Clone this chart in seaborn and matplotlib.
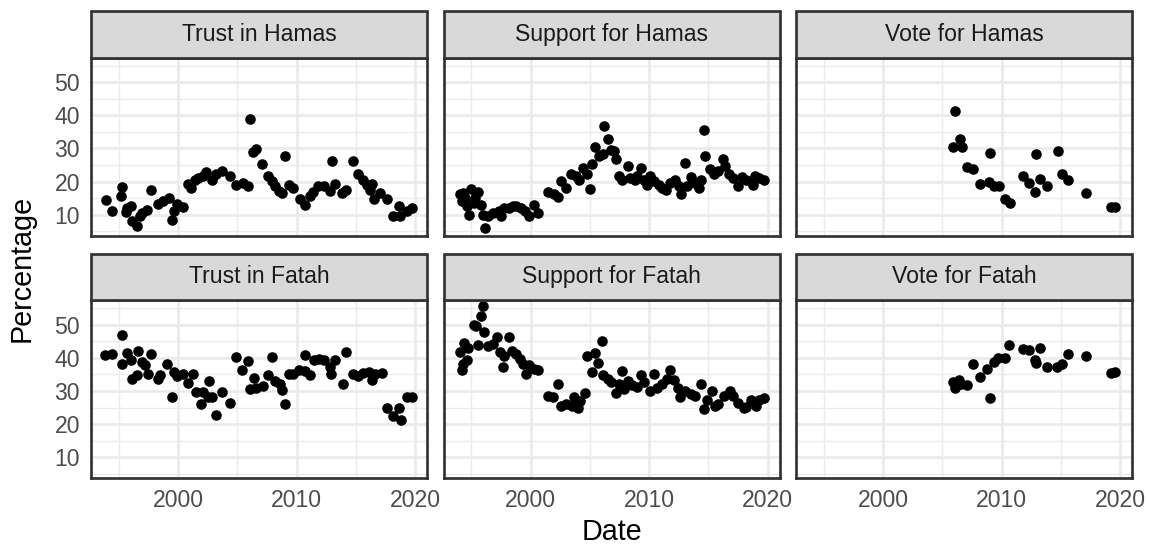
import pandas as pd
import matplotlib.pyplot as plt
import seaborn as sns
from matplotlib.patches import Rectangle
from matplotlib.ticker import MultipleLocator

# -------------------------------------------------------
# Data
# -------------------------------------------------------
panels = ["Trust in Hamas", "Support for Hamas", "Vote for Hamas",
          "Trust in Fatah", "Support for Fatah", "Vote for Fatah"]

trust_hamas_date = [1993.9, 1994.4, 1995.3, 1995.2, 1995.7, 1996.0, 1995.6, 1996.1, 1996.5, 1996.8,
                    1997.0, 1997.4, 1997.7, 1998.3, 1998.7, 1999.2, 1999.5, 1999.7, 1999.9, 2000.4,
                    2000.8, 2001.1, 2001.4, 2001.7, 2002.1, 2002.4, 2002.9, 2003.2, 2003.7, 2004.4,
                    2004.9, 2005.5, 2005.9, 2006.1, 2006.3, 2006.6, 2007.1, 2007.6, 2007.9, 2008.2,
                    2008.5, 2008.8, 2009.0, 2009.4, 2009.7, 2010.3, 2010.7, 2011.1, 2011.4, 2011.8,
                    2012.3, 2012.8, 2013.0, 2013.2, 2013.8, 2014.2, 2014.8, 2015.2, 2015.6, 2015.9,
                    2016.2, 2016.4, 2016.5, 2017.0, 2017.6, 2018.1, 2018.6, 2018.7, 2019.3, 2019.7]
trust_hamas_pct = [14.4, 11.0, 18.4, 15.6, 12.0, 12.7, 10.7, 8.0, 6.7, 9.5,
                   10.5, 11.5, 17.6, 13.3, 14.0, 15.0, 8.5, 11.0, 13.3, 12.2,
                   19.4, 18.1, 20.6, 21.1, 21.6, 22.9, 20.6, 22.2, 23.2, 21.8,
                   19.1, 19.6, 18.6, 38.9, 28.9, 29.7, 25.2, 21.8, 20.1, 18.6,
                   17.3, 16.4, 27.7, 19.1, 18.1, 14.8, 13.0, 15.6, 16.8, 18.8,
                   18.6, 17.1, 26.2, 19.4, 16.4, 17.4, 26.2, 22.2, 20.5, 19.1,
                   17.6, 19.4, 14.6, 16.6, 14.8, 9.7, 12.7, 9.5, 11.0, 12.0]

support_hamas_date = [1994.05, 1994.2, 1994.3, 1994.5, 1994.6, 1994.8, 1995.0, 1995.2, 1995.3, 1995.6,
                      1995.8, 1996.0, 1996.2, 1996.4, 1996.8, 1997.3, 1997.5, 1997.8, 1998.2, 1998.5,
                      1998.8, 1999.2, 1999.5, 1999.9, 2000.3, 2000.6, 2001.5, 2002.0, 2002.3, 2002.6,
                      2003.0, 2003.4, 2003.8, 2004.1, 2004.4, 2004.8, 2005.0, 2005.2, 2005.4, 2005.8,
                      2006.1, 2006.2, 2006.5, 2006.8, 2007.0, 2007.2, 2007.5, 2007.7, 2008.2, 2008.4,
                      2008.8, 2009.0, 2009.3, 2009.6, 2009.8, 2010.1, 2010.4, 2010.8, 2011.1, 2011.4,
                      2011.8, 2012.2, 2012.5, 2012.7, 2013.0, 2013.2, 2013.5, 2013.9, 2014.2, 2014.4,
                      2014.6, 2014.7, 2015.1, 2015.5, 2015.8, 2016.2, 2016.4, 2016.7, 2017.1, 2017.5,
                      2017.8, 2018.2, 2018.6, 2018.8, 2018.9, 2019.3, 2019.7]
support_hamas_pct = [16.1, 14.1, 16.6, 15.1, 12.5, 10.0, 17.8, 13.5, 15.1, 16.8,
                     13.0, 10.0, 6.0, 9.5, 10.5, 11.0, 9.5, 12.0, 12.0, 12.5,
                     12.5, 12.0, 11.0, 9.5, 13.0, 10.5, 16.8, 16.1, 15.4, 20.1,
                     18.1, 22.4, 21.6, 20.6, 24.2, 22.2, 17.8, 25.2, 30.3, 27.7,
                     28.2, 36.8, 32.8, 29.6, 29.3, 26.7, 21.8, 20.6, 24.7, 21.1,
                     20.6, 21.6, 24.2, 20.4, 19.1, 21.6, 20.1, 19.1, 18.1, 17.6,
                     19.6, 20.6, 18.6, 16.1, 25.7, 18.6, 21.4, 19.6, 18.1, 20.6,
                     35.6, 27.7, 23.9, 22.4, 23.2, 26.7, 24.7, 22.4, 21.1, 18.6,
                     21.4, 20.6, 20.1, 19.1, 21.6, 21.1, 20.4]

vote_hamas_date = [2006.08, 2005.9, 2006.5, 2006.7, 2007.1, 2007.6, 2008.2, 2008.9, 2009.0, 2009.4,
                   2009.8, 2010.3, 2010.7, 2011.8, 2012.3, 2012.8, 2012.9, 2013.2, 2013.8, 2014.8,
                   2015.1, 2015.6, 2017.1, 2019.2, 2019.6]
vote_hamas_pct = [41.4, 30.3, 33.0, 30.6, 24.5, 23.9, 19.4, 19.8, 28.7, 18.8,
                  18.8, 14.6, 13.5, 21.8, 19.6, 16.8, 28.2, 20.8, 18.8, 29.2,
                  22.2, 20.5, 16.6, 12.3, 12.3]

trust_fatah_date = [1993.8, 1994.4, 1995.3, 1995.7, 1995.3, 1996.0, 1996.1, 1996.6, 1996.5, 1997.0,
                    1997.2, 1997.5, 1997.7, 1998.3, 1998.5, 1999.1, 1999.5, 1999.7, 1999.9, 2000.4,
                    2000.8, 2001.3, 2001.5, 2002.1, 2001.9, 2002.5, 2002.6, 2002.9, 2003.2, 2003.7,
                    2004.4, 2004.9, 2005.4, 2005.9, 2006.1, 2006.4, 2006.6, 2007.2, 2007.6, 2007.9,
                    2008.2, 2008.6, 2008.8, 2009.0, 2009.4, 2009.7, 2010.2, 2010.7, 2010.7, 2011.1,
                    2011.5, 2011.9, 2012.3, 2012.8, 2012.9, 2013.2, 2013.9, 2014.2, 2014.8, 2015.2,
                    2015.6, 2016.1, 2016.4, 2016.6, 2017.2, 2017.6, 2018.1, 2018.6, 2018.8, 2019.3,
                    2019.7]
trust_fatah_pct = [40.8, 41.3, 46.9, 41.5, 38.1, 39.3, 33.7, 42.1, 34.7, 38.8,
                   37.8, 35.2, 41.1, 33.7, 34.7, 38.1, 28.3, 35.7, 34.4, 35.0,
                   32.3, 35.2, 29.7, 29.7, 26.2, 28.1, 33.0, 28.1, 22.8, 29.7,
                   26.5, 40.3, 36.2, 39.1, 30.6, 34.0, 30.9, 31.6, 34.7, 40.3,
                   33.0, 32.0, 30.3, 26.2, 35.0, 35.0, 36.4, 40.8, 36.0, 34.7,
                   39.3, 39.8, 39.3, 37.2, 35.0, 39.3, 32.1, 41.8, 35.2, 34.4,
                   35.4, 35.7, 33.4, 35.2, 35.4, 25.0, 22.4, 25.0, 21.1, 28.3,
                   28.3]

support_fatah_date = [1994.2, 1994.3, 1994.6, 1994.05, 1994.4, 1994.7, 1995.2, 1995.4, 1995.8, 1996.0,
                      1995.6, 1996.1, 1996.4, 1996.8, 1997.2, 1997.4, 1997.7, 1997.8, 1998.2, 1998.4,
                      1998.8, 1999.1, 1999.4, 1999.6, 1999.9, 2000.3, 2000.6, 2001.5, 2001.9, 2002.3,
                      2002.6, 2003.0, 2003.5, 2003.7, 2004.0, 2004.2, 2004.6, 2004.8, 2005.2, 2005.4,
                      2005.7, 2006.0, 2006.1, 2006.5, 2006.8, 2007.2, 2007.5, 2007.7, 2007.9, 2008.2,
                      2008.6, 2009.0, 2009.3, 2009.6, 2010.1, 2010.4, 2010.7, 2011.1, 2011.5, 2011.8,
                      2012.1, 2012.4, 2012.6, 2013.0, 2013.5, 2013.9, 2014.4, 2014.6, 2014.9, 2015.3,
                      2015.6, 2015.8, 2016.3, 2016.8, 2017.1, 2017.5, 2018.0, 2018.2, 2018.6, 2019.0,
                      2019.3, 2019.7]
support_fatah_pct = [36.4, 38.3, 39.5, 41.8, 44.4, 42.9, 50.0, 49.5, 52.8, 55.6,
                     43.9, 47.7, 43.6, 44.2, 46.2, 41.8, 37.4, 40.5, 46.2, 42.1,
                     41.3, 39.8, 38.3, 35.2, 37.8, 36.7, 36.4, 28.6, 28.3, 32.1,
                     25.5, 26.0, 25.5, 28.1, 25.0, 27.0, 29.3, 40.5, 35.7, 41.5,
                     38.5, 45.2, 34.7, 33.7, 32.7, 29.3, 32.1, 36.0, 30.6, 33.0,
                     31.9, 31.3, 34.7, 32.7, 30.1, 35.0, 30.9, 32.1, 33.7, 36.4,
                     33.4, 30.9, 28.1, 30.1, 29.1, 28.6, 32.1, 24.5, 27.2, 29.9,
                     25.5, 26.0, 28.6, 29.9, 28.6, 26.5, 24.8, 25.2, 27.2, 25.5,
                     27.2, 27.9]

vote_fatah_date = [2005.9, 2006.1, 2006.4, 2006.6, 2007.1, 2007.6, 2008.2, 2008.8, 2009.0, 2009.4,
                   2009.7, 2010.3, 2010.6, 2011.8, 2012.3, 2012.8, 2012.9, 2013.2, 2013.8, 2014.7,
                   2015.1, 2015.6, 2017.1, 2019.2, 2019.6]
vote_fatah_pct = [32.7, 30.9, 33.4, 32.1, 31.9, 38.1, 34.2, 36.7, 27.9, 38.8,
                  40.1, 40.1, 43.9, 42.6, 42.3, 39.3, 38.5, 42.9, 37.2, 37.4,
                  38.1, 41.3, 40.5, 35.4, 35.7]

series = [(trust_hamas_date, trust_hamas_pct), (support_hamas_date, support_hamas_pct),
          (vote_hamas_date, vote_hamas_pct), (trust_fatah_date, trust_fatah_pct),
          (support_fatah_date, support_fatah_pct), (vote_fatah_date, vote_fatah_pct)]

frames = []
for name, (d, p) in zip(panels, series):
    frames.append(pd.DataFrame({"Date": d, "Percentage": p, "panel": name}))
df = pd.concat(frames, ignore_index=True)

# -------------------------------------------------------
# Plot (ggplot theme_bw look)
# -------------------------------------------------------
sns.set_style("white")
plt.rcParams["font.family"] = ["Liberation Sans", "DejaVu Sans"]

g = sns.relplot(data=df, x="Date", y="Percentage", col="panel", col_order=panels,
                col_wrap=3, kind="scatter", color="black", s=58, linewidth=0,
                height=3, aspect=1.2)
fig = g.figure
fig.set_size_inches(11.49, 5.47)
g.set_titles("")
g.set_axis_labels("", "")

W, H = 1149, 547
lefts = [91, 443.5, 796]
tops = [57.5, 300]
pw, ph = 336, 178
strip_h = 46.5
border = "#333333"

for i, ax in enumerate(g.axes.flat):
    r, c = divmod(i, 3)
    ax.set_position([lefts[c] / W, (H - tops[r] - ph) / H, pw / W, ph / H])
    ax.set_xlim(1992.66, 2021.0)
    ax.set_ylim(3.7, 57.5)
    ax.set_xticks([2000, 2010, 2020])
    ax.set_yticks([10, 20, 30, 40, 50])
    ax.xaxis.set_minor_locator(MultipleLocator(5))
    ax.yaxis.set_minor_locator(MultipleLocator(5))
    ax.set_axisbelow(True)
    ax.grid(which="major", color="#EBEBEB", linewidth=1.95)
    ax.grid(which="minor", color="#EBEBEB", linewidth=1.0)
    for sp in ax.spines.values():
        sp.set_visible(True)
        sp.set_color(border)
        sp.set_linewidth(1.95)
    ax.tick_params(which="minor", length=0)
    ax.tick_params(which="major", length=5, width=1.6, color=border,
                   labelsize=16.6, labelcolor="#4D4D4D", pad=3)
    ax.tick_params(axis="x", labelbottom=(r == 1), length=5 if r == 1 else 0)
    ax.tick_params(axis="y", labelleft=(c == 0), length=5 if c == 0 else 0)

    # strip
    sh = strip_h / ph
    ax.add_patch(Rectangle((0, 1), 1, sh, transform=ax.transAxes, clip_on=False,
                           facecolor="#D9D9D9", edgecolor=border, linewidth=1.95, zorder=5))
    ax.text(0.5, 1 + sh / 2, panels[i], transform=ax.transAxes, ha="center", va="center",
            fontsize=16.6, color="#1A1A1A", zorder=6)

fig.text(611.5 / W, 1.5 / H, "Date", ha="center", va="bottom", fontsize=20.7, color="black")
fig.text(22 / W, (H - 268) / H, "Percentage", ha="center", va="center", rotation=90,
         fontsize=20.7, color="black")

plt.savefig("out.png", dpi=100)
plt.close()
